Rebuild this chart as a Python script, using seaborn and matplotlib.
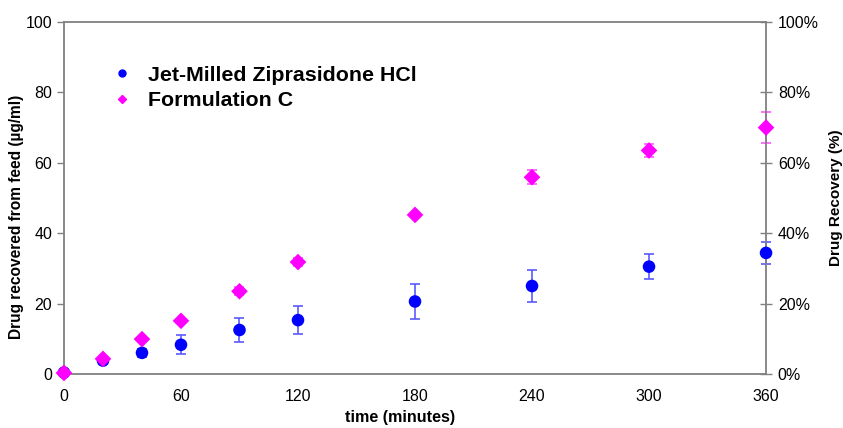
import matplotlib
matplotlib.use("Agg")
import matplotlib.pyplot as plt
import seaborn as sns
import pandas as pd
import numpy as np
from matplotlib.lines import Line2D
from matplotlib.ticker import FuncFormatter

time_min = [0, 20, 40, 60, 90, 120, 180, 240, 300, 360]
jet_milled = [0.4, 3.8, 6.0, 8.3, 12.5, 15.3, 20.6, 25.0, 30.5, 34.4]
jet_milled_err = [0.3, 0.6, 1.2, 2.7, 3.3, 4.0, 4.9, 4.6, 3.6, 3.2]
form_c = [0.3, 4.3, 9.9, 15.1, 23.5, 31.8, 45.2, 55.9, 63.5, 70.0]
form_c_err = [0.2, 0.4, 0.6, 0.6, 1.2, 1.2, 0.6, 2.0, 1.8, 4.3]
series_names = ["Jet-Milled Ziprasidone HCl", "Formulation C"]
x_ticks = [0, 60, 120, 180, 240, 300, 360]
y_ticks = [0, 20, 40, 60, 80, 100]

sns.set_style("white")
plt.rcParams['font.family'] = ['Liberation Sans', 'DejaVu Sans']
plt.rcParams['text.color'] = 'black'
plt.rcParams['axes.labelcolor'] = 'black'
plt.rcParams['xtick.labelcolor'] = 'black'
plt.rcParams['ytick.labelcolor'] = 'black'

df = pd.DataFrame({
    "time": time_min * 2,
    "value": jet_milled + form_c,
    "err": jet_milled_err + form_c_err,
    "series": [series_names[0]] * len(time_min) + [series_names[1]] * len(time_min),
})

fig = plt.figure(figsize=(8.43, 4.28), dpi=100)
ax = fig.add_axes([0.0759, 0.1262, 0.8328, 0.8224])

colors = {series_names[0]: "#0000ff", series_names[1]: "#ff00ff"}
err_colors = {series_names[0]: "#5a5aff", series_names[1]: "#ff55ff"}
markers = {series_names[0]: "o", series_names[1]: "D"}
sizes = {series_names[0]: 82, series_names[1]: 72}

for name in series_names:
    sub = df[df.series == name]
    ax.errorbar(sub.time, sub.value, yerr=sub.err, fmt="none",
                ecolor=err_colors[name], elinewidth=1.2, capsize=3.5, capthick=1.2, zorder=2)
    sns.scatterplot(data=sub, x="time", y="value", color=colors[name],
                    marker=markers[name], s=sizes[name], edgecolor="none",
                    ax=ax, zorder=3, legend=False)

ax.set_xlim(0, 360)
ax.set_ylim(0, 100)
ax.set_xticks(x_ticks)
ax.set_yticks(y_ticks)
ax.set_xlabel("time (minutes)", fontsize=11.6, fontweight="bold", color="black")
ax.xaxis.set_label_coords(0.479, -0.102)
ax.set_ylabel("Drug recovered from feed (µg/ml)", fontsize=11.2, fontweight="bold", color="black")
ax.yaxis.set_label_coords(-0.057, 0.445)
ax.tick_params(axis="both", labelsize=11.5, direction="out", length=5, width=1,
               color="#808080", labelcolor="black")
ax.tick_params(axis="x", pad=6)

for s in ax.spines.values():
    s.set_color("#808080")
    s.set_linewidth(1.3)
    s.set_visible(True)
for c in ax.collections:
    c.set_clip_on(False)
for l in ax.lines:
    l.set_clip_on(False)

ax2 = ax.twinx()
ax2.set_ylim(0, 1.0)
ax2.set_yticks([0, 0.2, 0.4, 0.6, 0.8, 1.0])
ax2.yaxis.set_major_formatter(FuncFormatter(lambda v, p: f"{int(round(v*100))}%"))
ax2.tick_params(axis="y", labelsize=11.5, direction="inout", length=9, width=1,
                color="#808080", labelcolor="black", pad=4)
ax2.set_ylabel("Drug Recovery (%)", fontsize=11, fontweight="bold", color="black")
ax2.yaxis.set_label_coords(1.09, 0.5)
for s in ax2.spines.values():
    s.set_visible(False)

handles = [
    Line2D([], [], linestyle="none", marker="o", color="#0000ff", markersize=5),
    Line2D([], [], linestyle="none", marker="D", color="#ff00ff", markersize=4),
]
leg = ax.legend(handles, series_names, loc="upper left", bbox_to_anchor=(0.04, 0.93),
                frameon=False, prop={"size": 15.4, "weight": "bold"},
                handletextpad=0.7, labelspacing=0.3, handlelength=1.0)
for t in leg.get_texts():
    t.set_color("black")

fig.savefig("out.png", dpi=100)
